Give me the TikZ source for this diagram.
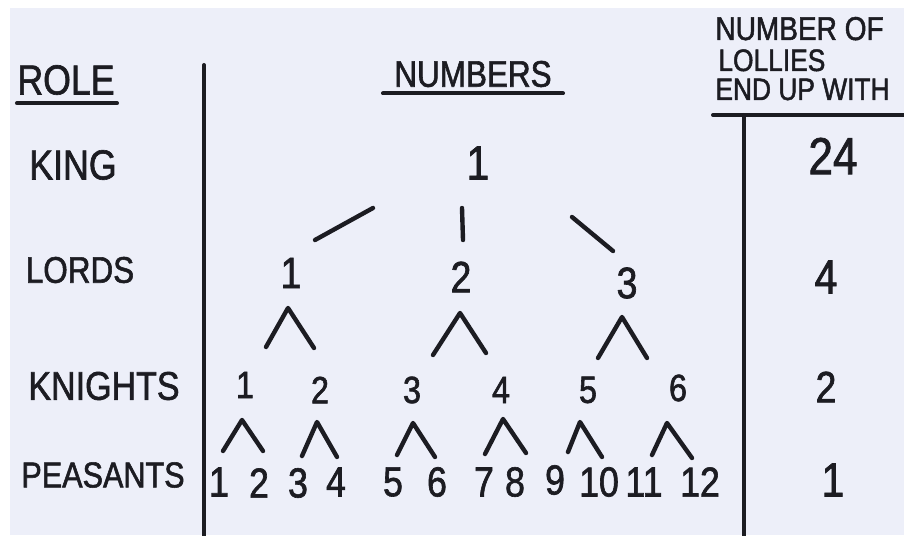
\documentclass[tikz,border=0pt]{standalone}
\usepackage{fontspec}
\setmainfont{Liberation Sans}[FakeStretch=0.85, FakeBold=1.5]
\usepackage{tikz}
\usetikzlibrary{calc}
\definecolor{paper}{RGB}{237,239,249}
\definecolor{ink}{RGB}{28,28,34}

\begin{document}
\begin{tikzpicture}[
  x=0.5pt, y=-0.5pt,
  every node/.style={inner sep=0pt, text=ink},
  role/.style={font=\fontsize{20}{24}\selectfont},
  head/.style={font=\fontsize{15.5}{18}\selectfont, anchor=base west},
  num/.style={font=\fontsize{21}{24}\selectfont},
  big/.style={font=\fontsize{24}{28}\selectfont},
  rule/.style={draw=ink, line width=2pt, line cap=round},
  link/.style={draw=ink, line width=2.2pt, line cap=round, line join=round}
]
% Sheet of paper
\useasboundingbox (0,0) rectangle (904,535);
\fill[white] (0,0) rectangle (904,535);
\fill[paper] (10,8) rectangle (904,535);

% Column headings
\node[role, font=\fontsize{21}{24}\selectfont] (role) at (66,80) {ROLE};
\node[role, font=\fontsize{18.5}{22}\selectfont] (numbers) at (473,74) {NUMBERS};
\node[head, font=\fontsize{16.5}{18}\selectfont] (hdr1) at (715,40)  {NUMBER OF};
\node[head] (hdr2) at (718,71)  {LOLLIES};
\node[head] (hdr3) at (715,100) {END UP WITH};

\draw[rule] ($(role.south west)+(0,8)$) -- ($(role.south east)+(2,8)$);
\draw[rule] ($(numbers.south west)+(-11,6)$) -- ($(numbers.south east)+(11,6)$);
\draw[rule] (713,115) -- (910,115);

% Dividers
\draw[rule] (204,65) -- (204,540);
\draw[rule] (744,115) -- (744,540);

% Row labels
\node[role, font=\fontsize{21}{24}\selectfont]   (king)     at (73,165)  {KING};
\node[role, font=\fontsize{18.5}{22}\selectfont] (lords)    at (80,270)  {LORDS};
\node[role]                                      (knights)  at (104,386) {KNIGHTS};
\node[role, font=\fontsize{18}{22}\selectfont]   (peasants) at (103,475) {PEASANTS};

% Tree of numbers
\node[big] (k0) at (478,163) {1};

\node[num, font=\fontsize{22}{26}\selectfont] (l1) at (291,273) {1};
\node[num, font=\fontsize{22}{26}\selectfont] (l2) at (461,277) {2};
\node[num, font=\fontsize{22}{26}\selectfont] (l3) at (627,283) {3};

\node[num, font=\fontsize{19}{22}\selectfont] (n1) at (245,385) {1};
\node[num, font=\fontsize{19}{22}\selectfont] (n2) at (320,390) {2};
\node[num, font=\fontsize{19}{22}\selectfont] (n3) at (412,390) {3};
\node[num, font=\fontsize{19}{22}\selectfont] (n4) at (501,390) {4};
\node[num, font=\fontsize{19}{22}\selectfont] (n5) at (588,390) {5};
\node[num, font=\fontsize{19}{22}\selectfont] (n6) at (678,388) {6};

\node[num] (p1)  at (219,482) {1};
\node[num] (p2)  at (259,483) {2};
\node[num] (p3)  at (298,483) {3};
\node[num] (p4)  at (336,482) {4};
\node[num] (p5)  at (393,482) {5};
\node[num] (p6)  at (437,482) {6};
\node[num] (p7)  at (484,482) {7};
\node[num] (p8)  at (515,482) {8};
\node[num] (p9)  at (555,480) {9};
\node[num] (p10) at (599,482) {10};
\node[num] (p11) at (644,482) {11};
\node[num] (p12) at (700,482) {12};

% King to lords
\draw[link] ($(k0)+(-105,45)$) -- ($(l1)+(24,-33)$);
\draw[link] ($(k0)+(-16,45)$)  -- ($(l2)+(2,-37)$);
\draw[link] ($(k0)+(94,54)$)   -- ($(l3)+(-14,-32)$);

% Lords to knights
\draw[link] ($(n1)+(21,-38)$) -- ($(l1)+(-3,35)$) -- ($(n2)+(-6,-42)$);
\draw[link] ($(n3)+(21,-35)$) -- ($(l2)+(-1,36)$) -- ($(n4)+(-15,-37)$);
\draw[link] ($(n5)+(10,-32)$) -- ($(l3)+(-5,34)$) -- ($(n6)+(-31,-30)$);

% Knights to peasants
\draw[link] ($(p1)+(4,-31)$)  -- ($(n1)+(-3,35)$)  -- ($(p2)+(4,-32)$);
\draw[link] ($(p3)+(4,-27)$)  -- ($(n2)+(-3,32)$)  -- ($(p4)+(1,-25)$);
\draw[link] ($(p5)+(4,-27)$)  -- ($(n3)+(1,33)$)   -- ($(p6)+(-2,-25)$);
\draw[link] ($(p7)+(1,-28)$)  -- ($(n4)+(2,29)$)   -- ($(p8)+(11,-29)$);
\draw[link] ($(p9)+(13,-28)$) -- ($(n5)+(-8,32)$)  -- ($(p10)+(3,-25)$);
\draw[link] ($(p11)+(8,-27)$) -- ($(n6)+(-11,35)$) -- ($(p12)+(-8,-24)$);

% Lollies per person
\node[big, font=\fontsize{26}{30}\selectfont] (c0) at (833,156) {24};
\node[big] (c1) at (826,277) {4};
\node[num, font=\fontsize{22}{26}\selectfont] (c2) at (826,387) {2};
\node[big] (c3) at (833,480) {1};
\end{tikzpicture}
\end{document}
